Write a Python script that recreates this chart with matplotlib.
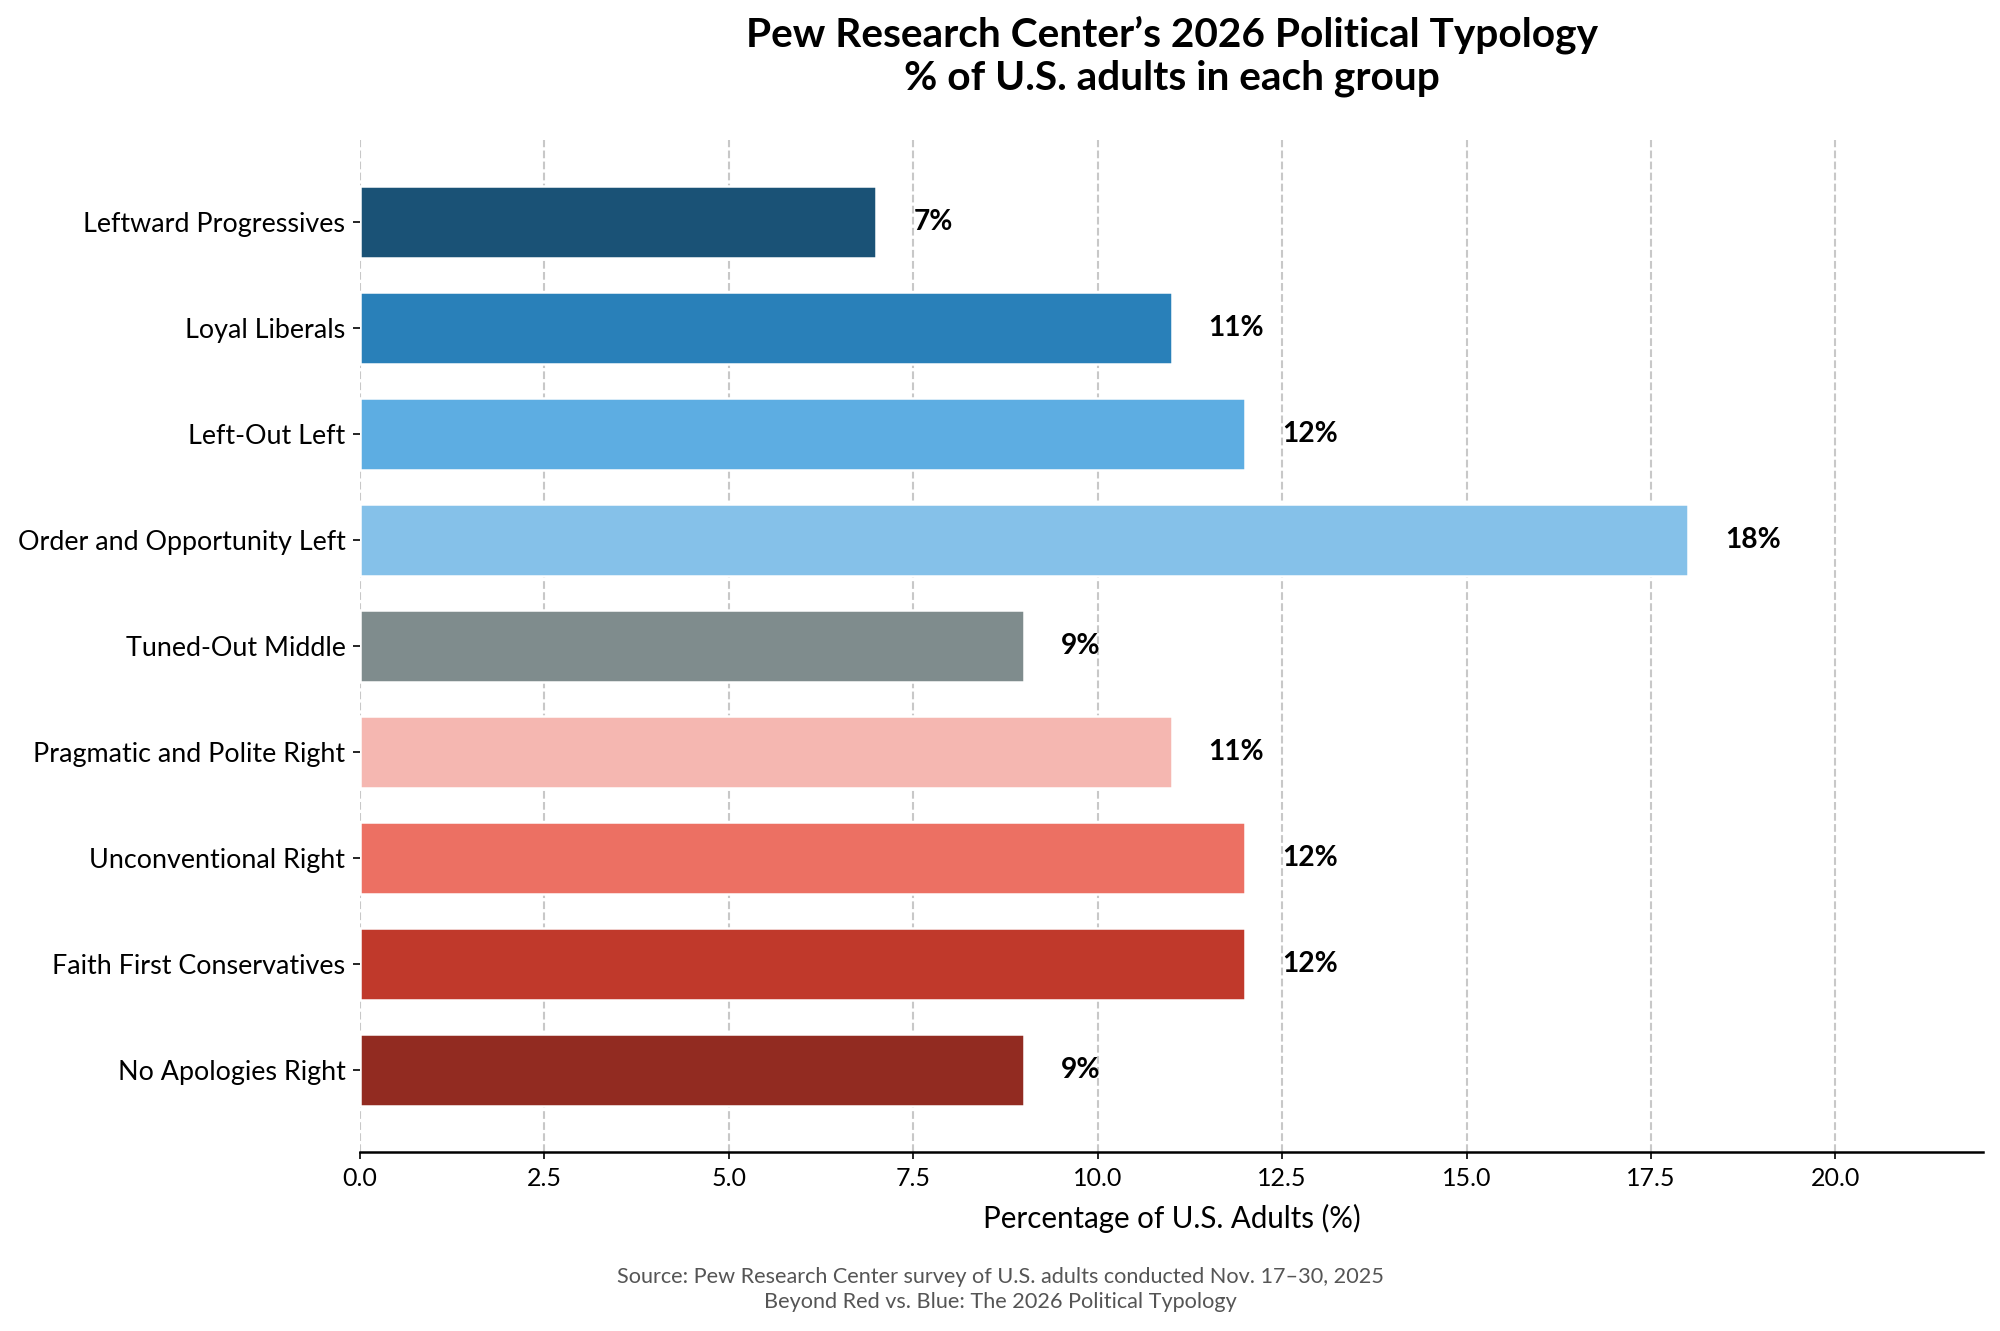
import matplotlib
matplotlib.use("Agg")
import matplotlib.pyplot as plt

categories = ["Leftward Progressives", "Loyal Liberals", "Left-Out Left",
              "Order and Opportunity Left", "Tuned-Out Middle",
              "Pragmatic and Polite Right", "Unconventional Right",
              "Faith First Conservatives", "No Apologies Right"]
values = [7, 11, 12, 18, 9, 11, 12, 12, 9]
colors = ["#1a5276", "#2980b9", "#5dade2", "#85c1e9", "#7f8c8d",
          "#f5b7b1", "#ec7063", "#c0392b", "#922b21"]
xticks = [0.0, 2.5, 5.0, 7.5, 10.0, 12.5, 15.0, 17.5, 20.0]

plt.rcParams['font.family'] = ['Lato', 'DejaVu Sans']

dpi = 150
fig = plt.figure(figsize=(2000 / dpi, 1331 / dpi), dpi=dpi)
ax = fig.add_axes([0.18, 0.1345, 0.8115, 0.7605])

ypos = list(range(len(categories)))
ax.barh(ypos, values, height=0.68, color=colors, edgecolor="white", linewidth=1.2, zorder=3)
ax.invert_yaxis()
ax.set_yticks(ypos)
ax.set_yticklabels(categories, fontsize=12.9)
ax.set_xlim(0, 22)
ax.set_xticks(xticks)
ax.set_xticklabels([f"{t:.1f}" for t in xticks], fontsize=12)

for y, v in zip(ypos, values):
    ax.text(v + 0.5, y, f"{v}%", ha="left", va="center", fontsize=13.5,
            fontweight="bold", color="black", zorder=4)

ax.grid(axis="x", linestyle="--", color="#bbbbbb", linewidth=1.0, alpha=0.8, zorder=0)
ax.set_axisbelow(True)
for s in ["top", "right", "left"]:
    ax.spines[s].set_visible(False)
ax.spines["bottom"].set_linewidth(1.2)

ax.set_xlabel("Percentage of U.S. Adults (%)", fontsize=14.2, labelpad=7)
ax.set_title("Pew Research Center\u2019s 2026 Political Typology\n% of U.S. adults in each group",
             fontsize=19.5, fontweight="bold", pad=24, linespacing=1.18)

fig.text(0.5, 0.031, "Source: Pew Research Center survey of U.S. adults conducted Nov. 17\u201330, 2025\nBeyond Red vs. Blue: The 2026 Political Typology",
         ha="center", va="center", fontsize=10.4, color="#555555", linespacing=1.3)

fig.savefig("out.png", dpi=dpi)
